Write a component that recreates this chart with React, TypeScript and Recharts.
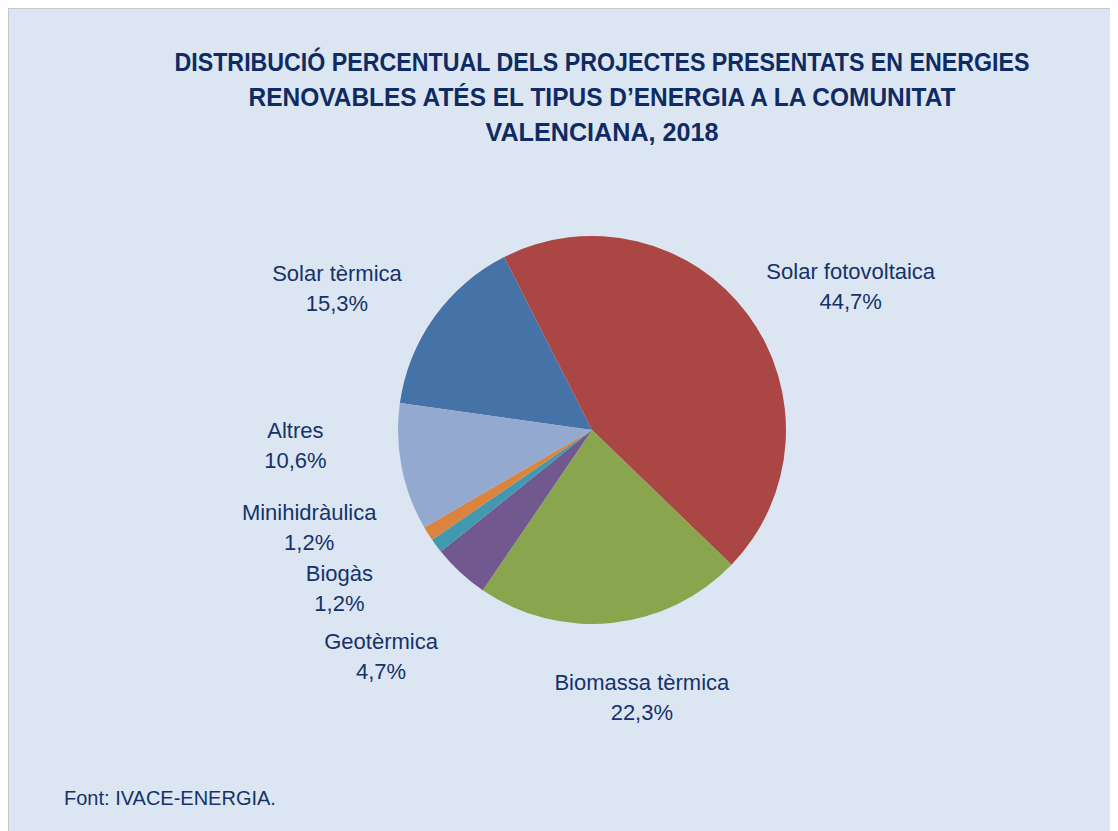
import { PieChart, Pie, Cell } from 'recharts'

const CATEGORIES = [
  'Solar tèrmica',
  'Solar fotovoltaica',
  'Biomassa tèrmica',
  'Geotèrmica',
  'Biogàs',
  'Minihidràulica',
  'Altres',
]
const SHARES = [15.3, 44.7, 22.3, 4.7, 1.2, 1.2, 10.6]

// Excel-like palette, same order as CATEGORIES
const COLORS = ['#4572A7', '#AA4643', '#89A54E', '#71588F', '#4198AF', '#DB843D', '#93A9CF']

const TITLE_LINES = [
  'DISTRIBUCIÓ PERCENTUAL DELS PROJECTES PRESENTATS EN ENERGIES',
  'RENOVABLES ATÉS EL TIPUS D’ENERGIA A LA COMUNITAT',
  'VALENCIANA, 2018',
]
const TITLE_WIDTHS = [855, 707, 233]
const SOURCE = 'Font: IVACE-ENERGIA.'

// label placement: [angle shift from slice middle (deg, clockwise), distance from centre (px)]
const LABEL_NUDGE: [number, number][] = [
  [-6.4, 292],
  [7.4, 296],
  [-4.7, 272],
  [0.3, 309],
  [4.6, 298],
  [13.4, 299],
  [8.2, 297],
]

const TEXT_COLOR = '#15326B'
const FONT = "'Liberation Sans', Arial, sans-serif"

const data = CATEGORIES.map((name, i) => ({ name, value: SHARES[i] }))

const fmt = (v: number) => `${v.toFixed(1).replace('.', ',')}%`

// eslint-disable-next-line @typescript-eslint/no-explicit-any
function renderLabel(props: any) {
  const { cx, cy, midAngle, index, value } = props
  const [shift, dist] = LABEL_NUDGE[index]
  const theta = ((90 - midAngle + shift) * Math.PI) / 180
  const x = cx + dist * Math.sin(theta)
  const y = cy - dist * Math.cos(theta)
  return (
    <text
      key={`lbl-${index}`}
      x={x}
      y={y}
      textAnchor="middle"
      fill={TEXT_COLOR}
      fontFamily={FONT}
      fontSize={22}
    >
      <tspan x={x} y={y - 7}>
        {CATEGORIES[index]}
      </tspan>
      <tspan x={x} y={y + 23}>
        {fmt(value)}
      </tspan>
    </text>
  )
}

export default function App() {
  return (
    <div
      style={{
        position: 'relative',
        width: 1110,
        height: 823,
        boxSizing: 'border-box',
        borderTop: '1px solid #c8c8c8',
        borderLeft: '1px solid #c8c8c8',
        background: '#DCE6F2',
        overflow: 'hidden',
      }}
    >
      <div style={{ position: 'absolute', left: 0, top: 0 }}>
        <PieChart width={1109} height={822} margin={{ top: 0, right: 0, bottom: 0, left: 0 }}>
          <Pie
            data={data}
            dataKey="value"
            nameKey="name"
            cx={583}
            cy={421}
            outerRadius={194}
            startAngle={172}
            endAngle={-188}
            stroke="none"
            label={renderLabel}
            labelLine={false}
            isAnimationActive={false}
          >
            {data.map((d, i) => (
              <Cell key={d.name} fill={COLORS[i]} />
            ))}
          </Pie>
        </PieChart>
      </div>
      <svg
        width={1109}
        height={822}
        style={{ position: 'absolute', left: 0, top: 0, pointerEvents: 'none' }}
      >
        {TITLE_LINES.map((line, i) => (
          <text
            key={line}
            x={593}
            y={62 + i * 35}
            textAnchor="middle"
            fill="#0F2B63"
            fontFamily="'Liberation Sans Narrow', 'Liberation Sans', Arial, sans-serif"
            fontWeight="bold"
            fontSize={25}
            textLength={TITLE_WIDTHS[i]}
            lengthAdjust="spacingAndGlyphs"
          >
            {line}
          </text>
        ))}
        <text x={55} y={796} fill={TEXT_COLOR} fontFamily={FONT} fontSize={20}>
          {SOURCE}
        </text>
      </svg>
    </div>
  )
}
